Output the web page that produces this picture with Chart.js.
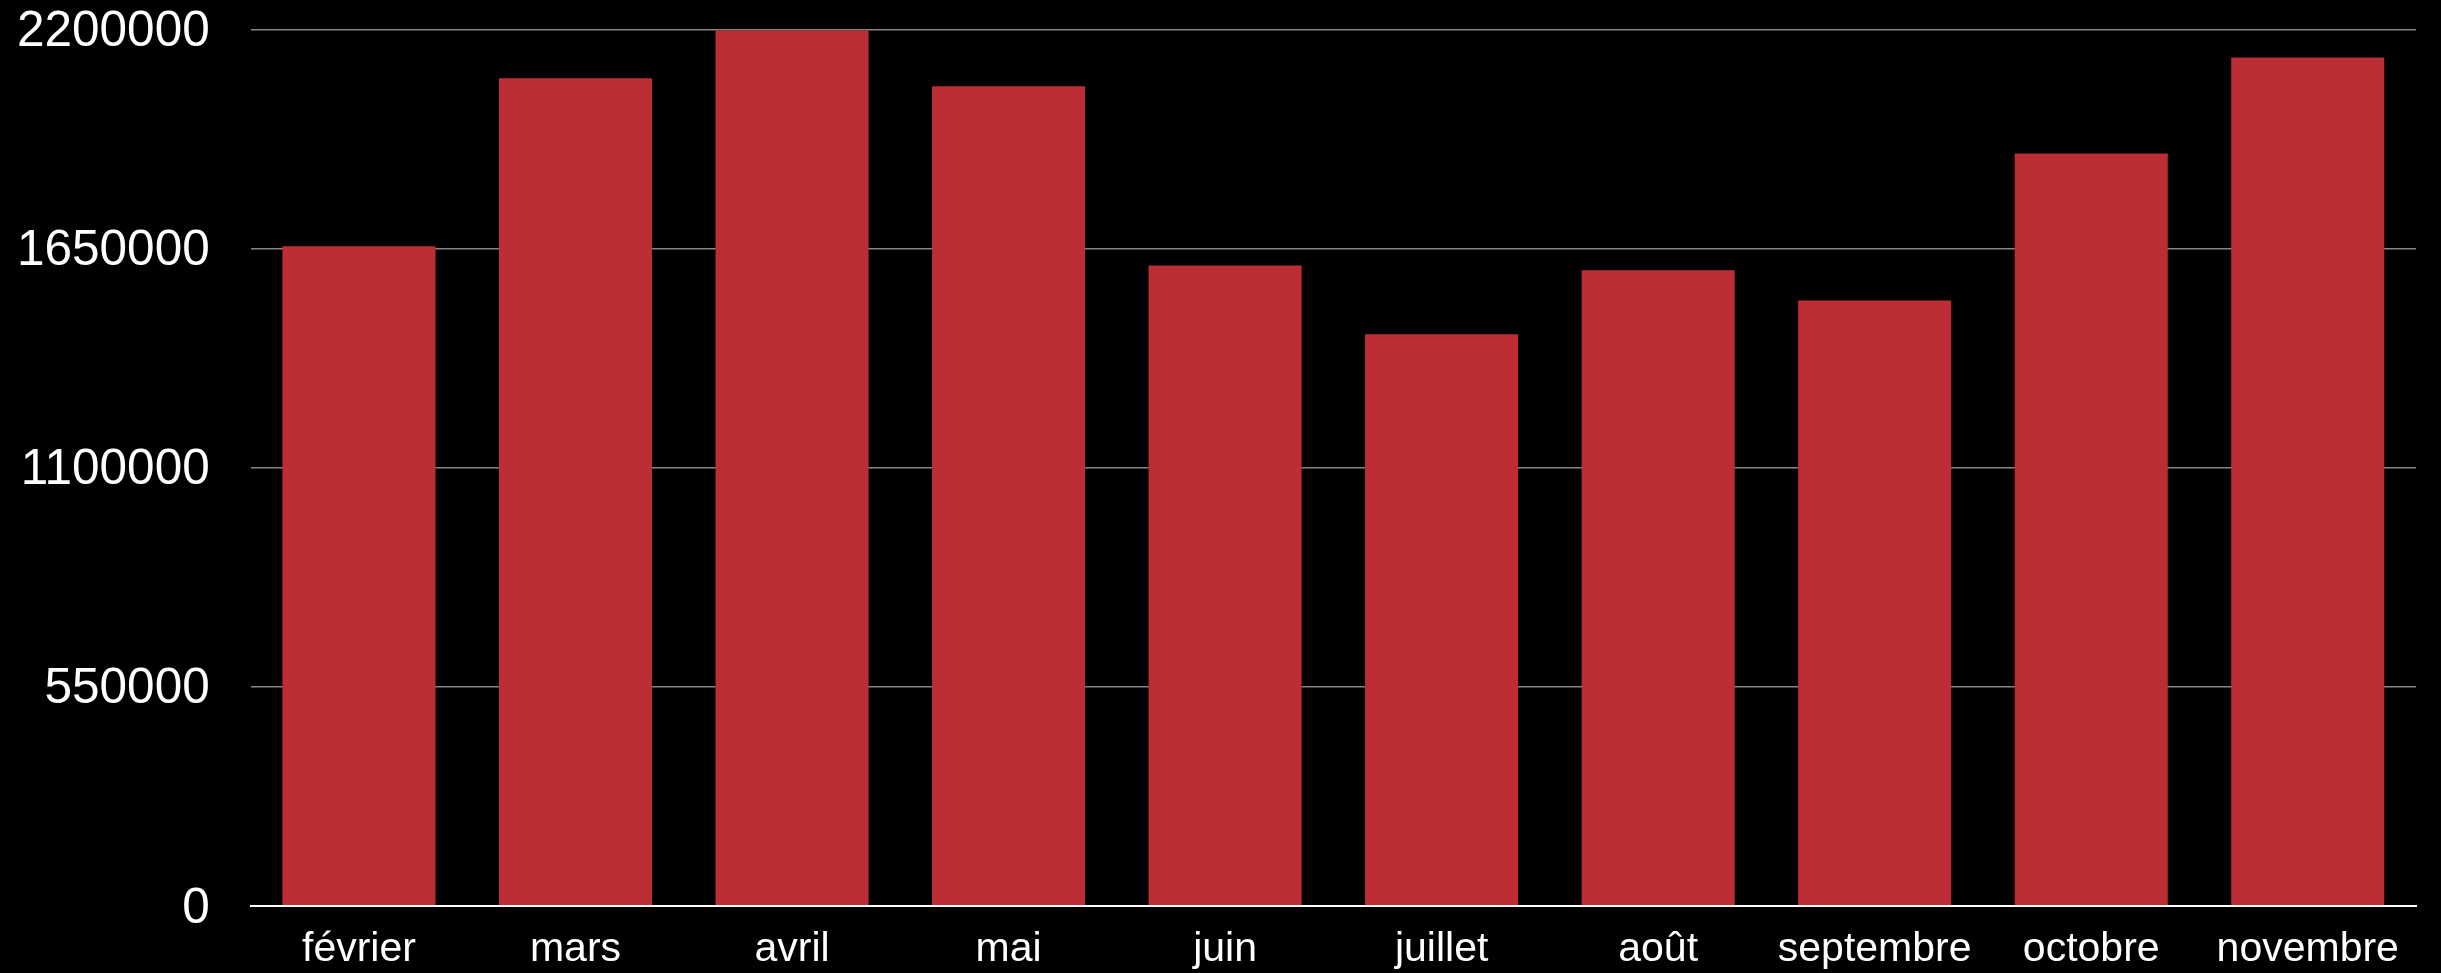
<!DOCTYPE html>
<html>
<head>
<meta charset="utf-8">
<script src="https://cdn.jsdelivr.net/npm/chart.js@4/dist/chart.umd.min.js"></script>
<style>
  html, body { margin: 0; padding: 0; background: #000; }
  #wrap { width: 2441px; height: 973px; position: relative; }
</style>
</head>
<body>
<div id="wrap"><canvas id="chart"></canvas></div>
<script>
// values
const months = ["février", "mars", "avril", "mai", "juin", "juillet", "août", "septembre", "octobre", "novembre"];
const amounts = [1656000, 2078000, 2198000, 2058000, 1608000, 1435000, 1596000, 1520000, 1889000, 2130000];
const yTicks = [0, 550000, 1100000, 1650000, 2200000];

const ctx = document.getElementById("chart").getContext("2d");
const fontFamily = "'Liberation Sans', Arial, sans-serif";

// ticks.padding is counted twice in Chart.js fit(), so the gaps are made
// with invisible tick marks instead
new Chart(ctx, {
  type: "bar",
  data: {
    labels: months,
    datasets: [
      {
        data: amounts,
        backgroundColor: "#bc2e33",
        borderWidth: 0,
        categoryPercentage: 1,
        barPercentage: 0.707,
      },
    ],
  },
  options: {
    responsive: true,
    maintainAspectRatio: false,
    devicePixelRatio: 1,
    animation: false,
    layout: { padding: { top: 0, right: 25, bottom: 0, left: 17 } },
    plugins: { legend: { display: false }, tooltip: { enabled: false } },
    scales: {
      x: {
        grid: { display: false, drawTicks: true, tickLength: 20 },
        border: { display: true, color: "#ffffff", width: 2 },
        ticks: {
          color: "#ffffff",
          padding: 0,
          font: { family: fontFamily, size: 41, lineHeight: 1.15 },
        },
      },
      y: {
        min: 0,
        max: 2200000,
        afterBuildTicks: (axis) => {
          axis.ticks = yTicks.map((v) => ({ value: v }));
        },
        grid: {
          color: "#858585",
          lineWidth: 1.5,
          drawTicks: true,
          tickLength: 41,
          tickColor: "rgba(0,0,0,0)",
        },
        border: { display: false },
        ticks: {
          color: "#ffffff",
          padding: 0,
          labelOffset: 3,
          font: { family: fontFamily, size: 49.5 },
          callback: (v) => String(v),
        },
      },
    },
  },
});
</script>
</body>
</html>
